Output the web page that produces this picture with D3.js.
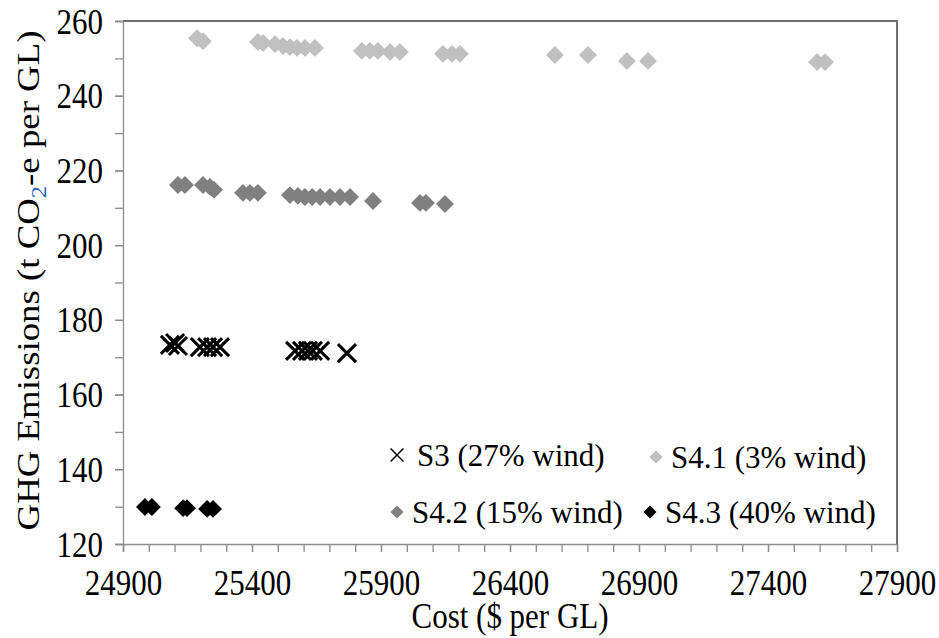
<!DOCTYPE html>
<html>
<head>
<meta charset="utf-8">
<script src="https://cdn.jsdelivr.net/npm/d3@7"></script>
</head>
<body style="margin:0">
<div class="chart"></div>
<script>
// DATA
// ----------------------------
const s3Cost = [25082, 25102, 25113, 25198, 25226, 25249, 25276, 25567, 25594, 25617, 25636, 25664, 25768]
const s3Ghg = [173.3, 173.8, 173.0, 172.7, 172.7, 172.7, 172.7, 171.7, 171.7, 171.7, 171.7, 171.7, 171.1]

const s41Cost = [25187, 25210, 25423, 25443, 25489, 25520, 25547, 25574, 25605, 25644, 25826, 25857, 25888, 25935, 25973, 26140, 26175, 26206, 26574, 26702, 26853, 26935, 27590, 27621]
const s41Ghg = [255.4, 254.6, 254.4, 254.1, 253.8, 253.3, 253.0, 252.8, 252.8, 252.8, 252.0, 252.0, 252.0, 251.7, 251.7, 251.2, 251.2, 251.2, 250.9, 250.9, 249.3, 249.3, 249.0, 249.0]

const s42Cost = [25113, 25140, 25210, 25237, 25253, 25365, 25392, 25423, 25547, 25578, 25605, 25633, 25664, 25702, 25741, 25780, 25869, 26051, 26074, 26148]
const s42Ghg = [216.1, 216.1, 216.1, 215.6, 214.8, 214.0, 214.0, 214.0, 213.4, 213.2, 212.9, 212.9, 212.9, 212.9, 212.9, 212.9, 211.8, 211.3, 211.3, 211.0]

const s43Cost = [24985, 25012, 25133, 25148, 25226, 25249]
const s43Ghg = [129.9, 129.9, 129.6, 129.6, 129.4, 129.4]

const xTicks = [24900, 25400, 25900, 26400, 26900, 27400, 27900]
const yTicks = [120, 140, 160, 180, 200, 220, 240, 260]

const seriesNames = ['S3 (27% wind)', 'S4.1 (3% wind)', 'S4.2 (15% wind)', 'S4.3 (40% wind)']

// SETUP
// ----------------------------
const margin = { top: 21, bottom: 94, left: 123, right: 42 }
const fullWidth = 939
const fullHeight = 638
const width = fullWidth - margin.left - margin.right
const height = fullHeight - margin.top - margin.bottom
const serif = '"Liberation Serif"'
const fontSize = 30
const grow = 1.033   // 30px text scaled up a touch
const stretch = 1.15 // the reference text is drawn a bit tall

const root = d3.select('.chart')
  .append('svg')
    .attr('width', fullWidth)
    .attr('height', fullHeight)
const svg = root.append('g')
    .attr('transform', `translate(${margin.left}, ${margin.top})`)

// SCALES
// ----------------------------
const xScale = d3.scaleLinear()
  .domain([24900, 27900])
  .range([0, width])
const yScale = d3.scaleLinear()
  .domain([120, 260])
  .range([height, 0])

// plot frame (top + right)
svg.append('path')
  .attr('d', `M0,0H${width}V${height}`)
  .attr('fill', 'none')
  .attr('stroke', '#6e6e6e')
  .attr('stroke-width', 2)

// AXES
// ----------------------------
const axisColor = '#8c8c8c'

// minor ticks, no labels
svg.append('g')
    .attr('transform', `translate(0, ${height})`)
  .call(d3.axisBottom(xScale).tickValues(d3.range(24900, 27901, 100)).tickSize(8).tickFormat(''))
  .call(g => g.select('.domain').remove())
svg.append('g')
  .call(d3.axisLeft(yScale).tickValues(d3.range(120, 261, 10)).tickSize(8).tickFormat(''))
  .call(g => g.select('.domain').remove())

const xAxis = d3.axisBottom(xScale)
  .tickValues(xTicks)
  .tickSize(8)
  .tickFormat(d3.format('d'))
svg.append('g')
    .attr('transform', `translate(0, ${height})`)
  .call(xAxis)
  .selectAll('text')
    .attr('y', null)
    .attr('dy', null)
    .attr('transform', `translate(0, 51) scale(${grow}, ${grow * stretch})`)

const yAxis = d3.axisLeft(yScale)
  .tickValues(yTicks)
  .tickSize(8)
svg.append('g')
  .call(yAxis)
  .selectAll('text')
    .attr('x', null)
    .attr('dy', null)
    .attr('transform', `translate(-20, 12) scale(${grow}, ${grow * stretch})`)

svg.selectAll('g[font-family]').attr('font-family', null)
svg.selectAll('.tick text')
  .attr('font-size', fontSize)
  .attr('fill', '#000')
  .style('font-family', serif)

svg.selectAll('.domain, .tick line')
  .attr('stroke', axisColor)
  .attr('stroke-width', 1.3)

// axis titles
svg.append('text')
  .attr('transform', `translate(${width / 2}, ${height + 84}) scale(${grow}, ${grow * stretch})`)
  .attr('text-anchor', 'middle')
  .attr('font-size', fontSize)
  .style('font-family', serif)
  .text('Cost ($ per GL)')

const yTitle = root.append('text')
  .attr('transform', `translate(39, ${margin.top + height / 2 - 2}) rotate(-90) scale(${1.067 * stretch}, 1.067)`)
  .attr('text-anchor', 'middle')
  .attr('font-size', fontSize)
  .style('font-family', serif)
yTitle.append('tspan').text('GHG Emissions (t CO')
yTitle.append('tspan').attr('font-size', 20).attr('dy', 7).attr('fill', '#2a64c4').text('2')
yTitle.append('tspan').attr('dy', -7).text('-e per GL)')

// MARKS
// ----------------------------
const diamond = d3.symbol(d3.symbolSquare, 160)
const cross = d3.symbol(d3.symbolTimes, 215)

function drawDiamonds (cost, ghg, color) {
  svg.append('g')
    .selectAll('path')
    .data(d3.zip(cost, ghg))
    .enter()
    .append('path')
      .attr('d', diamond)
      .attr('transform', d => `translate(${xScale(d[0])}, ${yScale(d[1])}) rotate(45)`)
      .attr('fill', color)
}

drawDiamonds(s41Cost, s41Ghg, '#c0c0c0')
drawDiamonds(s42Cost, s42Ghg, '#808080')
drawDiamonds(s43Cost, s43Ghg, '#000')

svg.append('g')
  .selectAll('path')
  .data(d3.zip(s3Cost, s3Ghg))
  .enter()
  .append('path')
    .attr('d', cross)
    .attr('transform', d => `translate(${xScale(d[0])}, ${yScale(d[1])})`)
    .attr('fill', 'none')
    .attr('stroke', '#000')
    .attr('stroke-width', 3)

// LEGEND
// ----------------------------
const legendItems = [
  { name: seriesNames[0], kind: 'x', color: '#000', x: 397, y: 455 },
  { name: seriesNames[1], kind: 'd', color: '#c0c0c0', x: 656, y: 457 },
  { name: seriesNames[2], kind: 'd', color: '#808080', x: 397, y: 512 },
  { name: seriesNames[3], kind: 'd', color: '#000', x: 650, y: 512 },
]
const legend = root.append('g')
  .selectAll('g')
  .data(legendItems)
  .enter()
  .append('g')
    .attr('transform', d => `translate(${d.x}, ${d.y})`)
legend.append('path')
  .attr('d', d => d.kind === 'x' ? d3.symbol(d3.symbolTimes, 110)() : d3.symbol(d3.symbolSquare, 85)())
  .attr('transform', d => d.kind === 'x' ? null : 'rotate(45)')
  .attr('fill', d => d.kind === 'x' ? 'none' : d.color)
  .attr('stroke', d => d.kind === 'x' ? d.color : null)
  .attr('stroke-width', 1.5)
legend.append('text')
  .attr('transform', d => `translate(${d.kind === 'x' ? 20 : 15}, 0) scale(${grow})`)
  .attr('dy', '0.35em')
  .attr('font-size', fontSize)
  .style('font-family', serif)
  .text(d => d.name)
</script>
</body>
</html>
